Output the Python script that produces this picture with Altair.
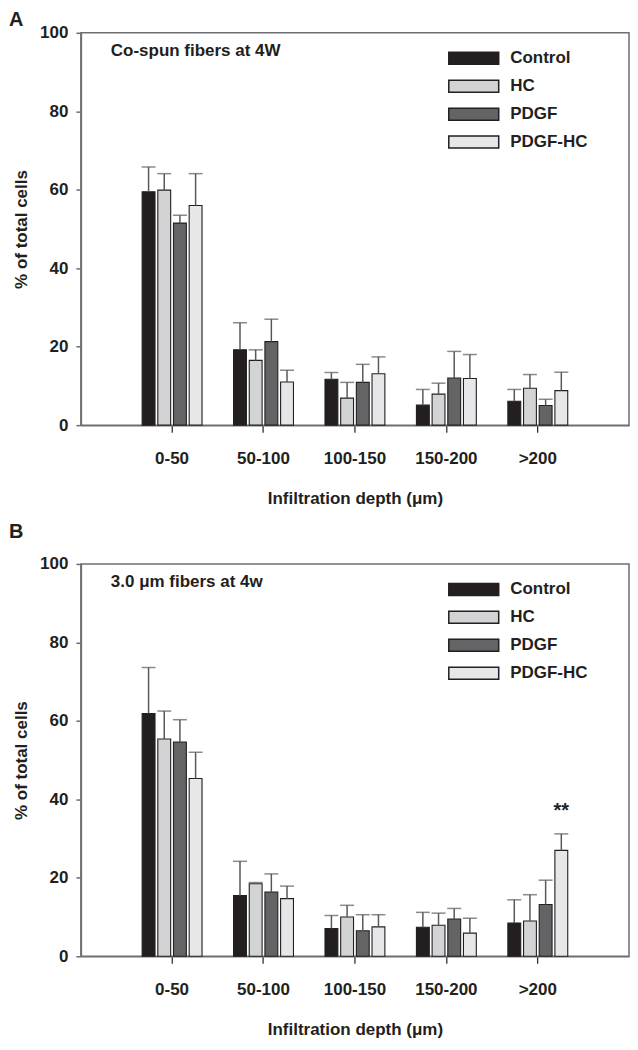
import altair as alt
import pandas as pd

categories = ["0-50", "50-100", "100-150", "150-200", ">200"]
groups = ["Control", "HC", "PDGF", "PDGF-HC"]
colors = ["#231f20", "#d1d3d4", "#636466", "#e6e7e8"]

# Panel A: Co-spun fibers at 4W (mean, upper error)
a_control = [59.5, 19.2, 11.7, 5.1, 6.1]
a_control_err = [6.3, 6.9, 1.7, 4.0, 3.0]
a_hc = [59.9, 16.5, 6.9, 7.9, 9.4]
a_hc_err = [4.2, 2.7, 4.0, 2.8, 3.5]
a_pdgf = [51.5, 21.3, 10.9, 12.0, 5.0]
a_pdgf_err = [2.0, 5.7, 4.6, 6.8, 1.6]
a_pdgfhc = [56.0, 11.0, 13.1, 11.9, 8.8]
a_pdgfhc_err = [8.1, 3.0, 4.3, 6.1, 4.7]

# Panel B: 3.0 um fibers at 4w
b_control = [61.9, 15.5, 7.1, 7.4, 8.5]
b_control_err = [11.7, 8.7, 3.3, 3.8, 5.9]
b_hc = [55.4, 18.5, 10.0, 7.9, 9.0]
b_hc_err = [7.1, 0.3, 3.0, 3.1, 6.7]
b_pdgf = [54.6, 16.4, 6.5, 9.5, 13.2]
b_pdgf_err = [5.7, 4.6, 4.1, 2.7, 6.2]
b_pdgfhc = [45.3, 14.7, 7.5, 5.9, 27.0]
b_pdgfhc_err = [6.7, 3.2, 3.1, 3.8, 4.2]

# significance annotation in panel B
annot_depth = [">200"]
annot_group = ["PDGF-HC"]
annot_value = [35.4]
annot_text = ["**"]

FONT = "Liberation Sans"
PW, PH = 549, 393


def make_df(series, errs):
    rows = []
    for g, vals, es in zip(groups, series, errs):
        for c, v, e in zip(categories, vals, es):
            rows.append({"depth": c, "group": g, "value": v, "upper": v + e})
    return pd.DataFrame(rows)


def panel(df, letter, letter_y, subtitle, annot=None):
    xenc = alt.X(
        "depth:N", sort=categories,
        scale=alt.Scale(paddingInner=0.345, paddingOuter=0.67),
        axis=alt.Axis(title="Infiltration depth (μm)", labelAngle=0, tickSize=7,
                      labelPadding=18, titlePadding=24, tickColor="#231f20",
                      tickWidth=1.2),
    )
    xoff = alt.XOffset("group:N", sort=groups,
                       scale=alt.Scale(paddingInner=0.18, paddingOuter=0))
    yscale = alt.Scale(domain=[0, 100], nice=False)
    base = alt.Chart(df).encode(x=xenc, xOffset=xoff)
    bars = base.mark_bar(stroke="#231f20", strokeWidth=1.1).encode(
        y=alt.Y("value:Q", scale=yscale,
                axis=alt.Axis(title="% of total cells", values=[0, 20, 40, 60, 80, 100],
                              tickSize=5, labelPadding=8, titlePadding=9,
                              tickColor="#6d6e71", tickWidth=1.5)),
        fill=alt.Fill("group:N", sort=groups,
                      scale=alt.Scale(domain=groups, range=colors),
                      legend=alt.Legend(orient="none", legendX=380, legendY=12,
                                        title=None,
                                        symbolType="M-2,-0.48H2V0.48H-2Z",
                                        symbolSize=625,
                                        symbolStrokeColor="#231f20",
                                        symbolStrokeWidth=1.5,
                                        labelFont=FONT, labelFontSize=17,
                                        labelFontWeight="bold", labelColor="#231f20",
                                        labelOffset=23, rowPadding=5)),
    )
    whisk = base.mark_rule(color="#58595b", strokeWidth=1.5).encode(
        y=alt.Y("value:Q", scale=yscale), y2="upper:Q")
    caps = base.mark_tick(color="#58595b", thickness=1.5, size=14).encode(
        y=alt.Y("upper:Q", scale=yscale))
    letter_t = alt.Chart(pd.DataFrame({"t": [letter]})).mark_text(
        font=FONT, fontSize=20, fontWeight="bold", align="left",
        baseline="top", color="#231f20",
    ).encode(text="t:N", x=alt.value(-72), y=alt.value(letter_y))
    sub_t = alt.Chart(pd.DataFrame({"t": [subtitle]})).mark_text(
        font=FONT, fontSize=17, fontWeight="bold", align="left",
        baseline="alphabetic", color="#231f20",
    ).encode(text="t:N", x=alt.value(30), y=alt.value(23))
    layers = [bars, whisk, caps, letter_t, sub_t]
    if annot is not None:
        ann = alt.Chart(annot).mark_text(
            font=FONT, fontSize=20, fontWeight="bold", baseline="alphabetic",
            color="#231f20",
        ).encode(x=alt.X("depth:N", sort=categories), xOffset=alt.XOffset("group:N", sort=groups),
                 y=alt.Y("value:Q", scale=yscale), text="text:N")
        layers.append(ann)
    return alt.layer(*layers).properties(width=PW, height=PH)


df_a = make_df([a_control, a_hc, a_pdgf, a_pdgfhc],
               [a_control_err, a_hc_err, a_pdgf_err, a_pdgfhc_err])
df_b = make_df([b_control, b_hc, b_pdgf, b_pdgfhc],
               [b_control_err, b_hc_err, b_pdgf_err, b_pdgfhc_err])
df_ann = pd.DataFrame({"depth": annot_depth, "group": annot_group,
                       "value": annot_value, "text": annot_text})

chart = alt.vconcat(
    panel(df_a, "A", -23, "Co-spun fibers at 4W"),
    panel(df_b, "B", -42, "3.0 μm fibers at 4w", df_ann),
    spacing=14,
).resolve_legend(fill="independent").properties(
    padding=0
).configure_view(
    stroke="#6d6e71", strokeWidth=1.5
).configure_axis(
    grid=False, domainColor="#6d6e71", domainWidth=1.5,
    labelFont=FONT, labelFontSize=17, labelFontWeight="bold", labelColor="#231f20",
    titleFont=FONT, titleFontSize=17, titleFontWeight="bold", titleColor="#231f20",
)

chart.save("out.html", embed_options={"renderer": "svg", "actions": False})
